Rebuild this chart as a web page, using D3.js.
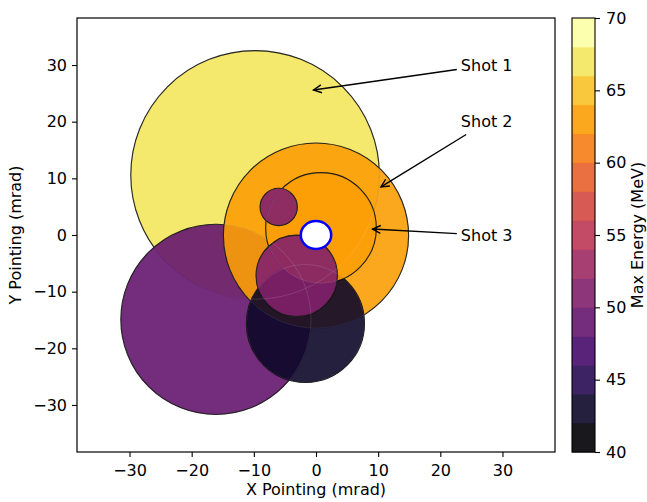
<!DOCTYPE html>
<html>
<head>
<meta charset="utf-8">
<script src="https://cdn.jsdelivr.net/npm/d3@7"></script>
<style>
  html, body { margin: 0; padding: 0; background: #fff; }
  svg { display: block; font-family: "DejaVu Sans", sans-serif; }
</style>
</head>
<body>
<svg id="chart" width="647" height="502"></svg>
<script>
// ---- data ----
const shotX      = [-9.8, -16.1, 0.0, -1.7, 0.8, -6.0, -3.1];
const shotY      = [10.6, -14.9, -0.1, -15.6, 1.25, 4.95, -7.2];
const shotRadius = [20.0, 15.3, 14.9, 9.5, 8.9, 3.0, 6.55];
const shotEnergy = [67, 49, 63, 43, 63, 51, 51];

const refX = [0.0];
const refY = [0.0];
const refRadius = [2.45];

const annLabels  = ["Shot 1", "Shot 2", "Shot 3"];
const annTargetX = [-0.4, 10.45, 9.1];
const annTargetY = [25.6, 8.5, 1.05];
const annTextX   = [23.3, 23.3, 23.3];
const annTextY   = [30.0, 20.0, 0.0];

const xTicks = [-30, -20, -10, 0, 10, 20, 30];
const yTicks = [-30, -20, -10, 0, 10, 20, 30];
const cbTicks = [40, 45, 50, 55, 60, 65, 70];
const cbMin = 40, cbMax = 70, cbBins = 15;

// ---- layout ----
const svg = d3.select("#chart");
const L = 77, R = 555, T = 18, B = 452;
const x = d3.scaleLinear().domain([-38.45, 38.45]).range([L, R]);
const y = d3.scaleLinear().domain([-38.3, 38.3]).range([B, T]);
const FS = 16;

const binColors = d3.range(cbBins).map(i => d3.interpolateInferno(i / (cbBins - 1)));
const color = d3.scaleQuantize().domain([cbMin, cbMax]).range(binColors);
const pxPerX = x(1) - x(0);

// clip
svg.append("defs").append("clipPath").attr("id", "plotclip")
  .append("rect").attr("x", L).attr("y", T).attr("width", R - L).attr("height", B - T);

const plot = svg.append("g").attr("clip-path", "url(#plotclip)");

const shots = shotX.map((d, i) => ({x: d, y: shotY[i], r: shotRadius[i], e: shotEnergy[i]}));

plot.selectAll("circle.shot").data(shots).join("circle")
  .attr("class", "shot")
  .attr("cx", d => x(d.x)).attr("cy", d => y(d.y))
  .attr("r", d => d.r * pxPerX)
  .attr("fill", d => color(d.e)).attr("fill-opacity", 0.9)
  .attr("stroke", "#000").attr("stroke-opacity", 0.95).attr("stroke-width", 1.1);

// faint edges seen through overlapping circles
plot.selectAll("circle.ghost").data(shots).join("circle")
  .attr("class", "ghost")
  .attr("cx", d => x(d.x)).attr("cy", d => y(d.y))
  .attr("r", d => d.r * pxPerX)
  .attr("fill", "none")
  .attr("stroke", "#fff").attr("stroke-opacity", 0.15).attr("stroke-width", 0.8);

// reference spot
plot.selectAll("ellipse.ref").data(refX.map((d, i) => ({x: d, y: refY[i], r: refRadius[i]}))).join("ellipse")
  .attr("class", "ref")
  .attr("cx", d => x(d.x)).attr("cy", d => y(d.y))
  .attr("rx", d => x(d.r) - x(0)).attr("ry", d => y(0) - y(d.r))
  .attr("fill", "#fff").attr("stroke", "#0000ff").attr("stroke-width", 2.5);

// annotations
const annG = svg.append("g");
annLabels.forEach((lab, i) => {
  const tx = x(annTextX[i]), ty = y(annTextY[i]);
  const t = annG.append("text")
    .attr("x", tx).attr("y", ty).attr("dy", "0.36em")
    .attr("font-size", FS).attr("fill", "#000").text(lab);
  const bb = t.node().getBBox();
  const pad = 2;
  const bx0 = bb.x - pad, bx1 = bb.x + bb.width + pad;
  const by0 = bb.y - pad, by1 = bb.y + bb.height + pad;
  const cx = (bx0 + bx1) / 2, cy = (by0 + by1) / 2;
  const ex = x(annTargetX[i]), ey = y(annTargetY[i]);
  const dx = ex - cx, dy = ey - cy;
  let s = Infinity;
  if (dx < 0) s = Math.min(s, (bx0 - cx) / dx);
  if (dx > 0) s = Math.min(s, (bx1 - cx) / dx);
  if (dy < 0) s = Math.min(s, (by0 - cy) / dy);
  if (dy > 0) s = Math.min(s, (by1 - cy) / dy);
  const len = Math.hypot(dx, dy);
  const ux = dx / len, uy = dy / len;
  const sx = cx + dx * s + ux * 2, sy = cy + dy * s + uy * 2;
  annG.append("line").attr("x1", sx).attr("y1", sy).attr("x2", ex).attr("y2", ey)
    .attr("stroke", "#000").attr("stroke-width", 1.4);
  const hl = 8, hw = 4;
  const bxp = ex - ux * hl, byp = ey - uy * hl;
  const px = -uy, py = ux;
  annG.append("path")
    .attr("d", `M${bxp + px * hw},${byp + py * hw}L${ex},${ey}L${bxp - px * hw},${byp - py * hw}`)
    .attr("fill", "none").attr("stroke", "#000").attr("stroke-width", 1.4)
    .attr("stroke-linejoin", "miter");
});

// axes
const xAxis = svg.append("g").attr("transform", `translate(0,${B})`)
  .call(d3.axisBottom(x).tickValues(xTicks).tickSize(5).tickPadding(8).tickSizeOuter(0));
const yAxis = svg.append("g").attr("transform", `translate(${L},0)`)
  .call(d3.axisLeft(y).tickValues(yTicks).tickSize(5).tickPadding(5).tickSizeOuter(0));
[xAxis, yAxis].forEach(a => {
  a.select(".domain").remove();
  a.selectAll("line").attr("stroke", "#000").attr("stroke-width", 1.1);
  a.selectAll("text").attr("font-size", FS).attr("fill", "#000").attr("font-family", "DejaVu Sans");
});

svg.append("rect").attr("x", L).attr("y", T).attr("width", R - L).attr("height", B - T)
  .attr("fill", "none").attr("stroke", "#000").attr("stroke-width", 1.2);

svg.append("text").attr("x", (L + R) / 2).attr("y", 495).attr("text-anchor", "middle")
  .attr("font-size", FS).attr("fill", "#000").text("X Pointing (mrad)");
svg.append("text").attr("transform", `translate(21,${(T + B) / 2}) rotate(-90)`)
  .attr("text-anchor", "middle").attr("font-size", FS).attr("fill", "#000").text("Y Pointing (mrad)");

// colorbar
const CL = 572, CR = 595;
const cy = d3.scaleLinear().domain([cbMin, cbMax]).range([B, T]);
const binW = (cbMax - cbMin) / cbBins;
const cbG = svg.append("g");
cbG.selectAll("rect.bin").data(binColors).join("rect")
  .attr("class", "bin")
  .attr("x", CL).attr("width", CR - CL)
  .attr("y", (d, i) => cy(cbMin + (i + 1) * binW))
  .attr("height", (d, i) => cy(cbMin + i * binW) - cy(cbMin + (i + 1) * binW) + 0.5)
  .attr("fill", d => d).attr("fill-opacity", 0.9);
cbG.append("rect").attr("x", CL).attr("y", T).attr("width", CR - CL).attr("height", B - T)
  .attr("fill", "none").attr("stroke", "#000").attr("stroke-width", 1.1);
const cbAxis = svg.append("g").attr("transform", `translate(${CR},0)`)
  .call(d3.axisRight(cy).tickValues(cbTicks).tickSize(5).tickPadding(6).tickSizeOuter(0));
cbAxis.select(".domain").remove();
cbAxis.selectAll("line").attr("stroke", "#000").attr("stroke-width", 1.1);
cbAxis.selectAll("text").attr("font-size", FS).attr("fill", "#000").attr("font-family", "DejaVu Sans");
svg.append("text").attr("transform", `translate(643,${(T + B) / 2}) rotate(-90)`)
  .attr("text-anchor", "middle").attr("font-size", FS).attr("fill", "#000").text("Max Energy (MeV)");
</script>
</body>
</html>
